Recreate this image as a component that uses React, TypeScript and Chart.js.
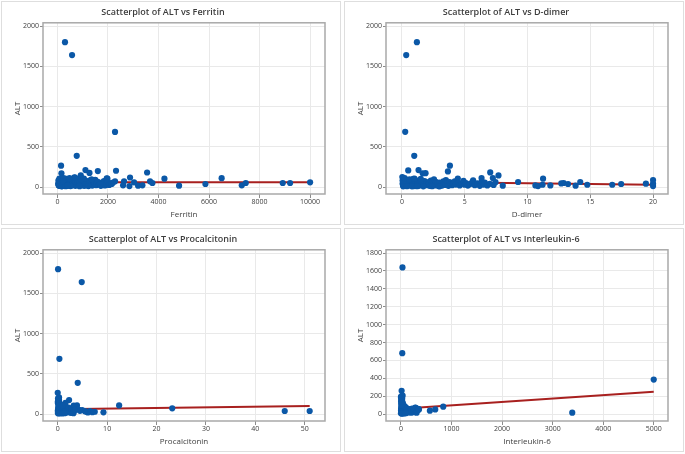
import React, { useEffect, useRef } from 'react';
import { Chart, registerables } from 'chart.js';

Chart.register(...registerables);

// ---------- data: [x, ALT] pairs ----------
const ferritinPoints: [number, number][] = [
  [300, 1800], [580, 1640], [2280, 685], [765, 388], [145, 265], [160, 170], [1110, 210], [1270, 175],
  [1600, 198], [925, 145], [2320, 202], [3550, 180], [4235, 103], [6500, 110], [2875, 118], [1953, 107],
  [2638, 70], [3034, 58], [2282, 70], [3667, 70], [3760, 50], [2599, 21], [2850, 12], [3193, 16],
  [3364, 21], [4815, 16], [5858, 37], [7296, 21], [7454, 50], [8918, 50], [9208, 50], [10000, 58],
  [673, 119], [1979, 103],
  [30, 40], [45, 25], [60, 55], [75, 15], [90, 70], [100, 35], [110, 50], [120, 20], [130, 85], [140, 30],
  [150, 60], [165, 45], [180, 12], [190, 75], [200, 38], [210, 95], [220, 28], [235, 52], [250, 18], [260, 65],
  [275, 42], [290, 30], [300, 80], [315, 22], [330, 55], [345, 35], [360, 100], [375, 48], [390, 15], [400, 68],
  [415, 30], [430, 58], [445, 24], [460, 85], [475, 40], [490, 18], [500, 62], [520, 33], [540, 75], [555, 50],
  [570, 20], [590, 90], [610, 38], [630, 55], [650, 26], [670, 72], [690, 45], [710, 15], [730, 60], [750, 35],
  [770, 95], [790, 28], [810, 52], [830, 70], [850, 20], [870, 42], [890, 65], [910, 30], [930, 85], [950, 48],
  [975, 22], [1000, 58], [1020, 38], [1040, 75], [1060, 15], [1080, 50], [1100, 30], [1125, 68], [1150, 42], [1175, 20],
  [1200, 55], [1230, 35], [1260, 80], [1290, 25], [1320, 60], [1350, 40], [1380, 18], [1410, 70], [1440, 32], [1470, 50],
  [1500, 90], [1530, 22], [1560, 45], [1600, 65], [1640, 28], [1680, 40], [1720, 15], [1760, 55], [1800, 35], [1840, 72],
  [1880, 20], [1920, 48], [1960, 30], [2000, 62], [2050, 25], [2100, 45], [2150, 38], [2200, 55], [80, 105], [250, 110],
  [480, 112], [700, 118], [950, 100], [1350, 95], [1050, 105], [60, 18], [170, 8], [330, 10], [520, 12], [880, 10],
  [1230, 12], [1700, 35], [40, 80], [120, 60], [220, 70], [400, 20],
];

const ddimerPoints: [number, number][] = [
  [1.19, 1800], [0.34, 1640], [0.26, 686], [0.98, 388], [3.82, 265], [0.5, 206], [1.32, 210], [3.66, 194],
  [1.65, 170], [1.88, 172], [0.03, 124], [7.03, 181], [7.69, 144], [5.67, 82], [6.34, 111], [7.24, 111],
  [8.03, 16], [9.25, 62], [10.63, 20], [10.84, 12], [11.2, 28], [11.24, 103], [11.82, 20], [12.69, 45],
  [12.88, 50], [13.23, 37], [13.83, 16], [14.2, 62], [14.76, 28], [16.75, 28], [17.46, 37], [19.43, 41],
  [20, 87], [20, 41], [20, 12],
  [0.05, 40], [0.1, 20], [0.15, 65], [0.2, 35], [0.25, 90], [0.3, 15], [0.35, 50], [0.4, 28], [0.45, 75], [0.5, 45],
  [0.55, 18], [0.6, 60], [0.65, 32], [0.7, 85], [0.75, 22], [0.8, 55], [0.85, 40], [0.9, 100], [0.95, 12], [1.0, 68],
  [1.05, 30], [1.1, 48], [1.15, 20], [1.2, 78], [1.25, 38], [1.3, 58], [1.35, 15], [1.4, 42], [1.45, 88], [1.5, 25],
  [1.55, 62], [1.6, 35], [1.7, 50], [1.75, 18], [1.8, 72], [1.9, 30], [1.95, 45], [2.0, 22], [2.1, 60], [2.15, 38],
  [2.2, 15], [2.3, 80], [2.35, 28], [2.4, 52], [2.5, 35], [2.55, 95], [2.6, 20], [2.7, 65], [2.8, 42], [2.9, 12],
  [3.0, 55], [3.1, 30], [3.2, 18], [3.3, 70], [3.35, 40], [3.45, 25], [3.5, 85], [3.6, 50], [3.7, 15], [3.8, 62],
  [3.9, 35], [4.0, 22], [4.1, 45], [4.2, 70], [4.3, 30], [4.45, 105], [4.5, 55], [4.6, 20], [4.75, 40], [4.9, 75],
  [5.0, 28], [5.1, 50], [5.25, 18], [5.4, 35], [5.6, 60], [5.8, 22], [6.0, 45], [6.2, 15], [6.35, 70], [6.5, 30],
  [6.6, 55], [6.8, 20], [7.0, 40], [7.3, 25], [7.45, 60], [0.05, 80], [0.12, 55], [0.22, 110], [0.6, 95], [1.0, 105],
  [1.5, 100], [0.1, 8], [0.4, 10], [0.8, 8], [1.2, 10], [1.7, 8], [2.4, 10], [3.0, 8],
];

const procalcitoninPoints: [number, number][] = [
  [0.07, 1800], [4.86, 1640], [0.34, 686], [4.05, 388], [0, 264], [0.27, 206], [0.27, 173], [0.06, 194],
  [2.3, 173], [1.56, 140], [3.24, 103], [3.9, 107], [12.43, 107], [23.18, 70], [45.95, 37], [51.0, 37],
  [9.26, 21], [4.93, 50], [5.8, 28], [6.5, 37], [7.5, 28], [7.0, 22], [6.1, 20], [5.5, 35],
  [0.02, 40], [0.05, 20], [0.08, 65], [0.1, 30], [0.12, 90], [0.15, 50], [0.18, 15], [0.2, 75], [0.22, 35], [0.25, 55],
  [0.28, 25], [0.3, 110], [0.32, 45], [0.35, 18], [0.38, 70], [0.4, 38], [0.45, 60], [0.5, 22], [0.55, 85], [0.6, 42],
  [0.65, 12], [0.7, 55], [0.75, 30], [0.8, 95], [0.85, 48], [0.9, 20], [0.95, 65], [1.0, 35], [1.05, 78], [1.1, 25],
  [1.2, 52], [1.25, 15], [1.3, 70], [1.4, 40], [1.5, 120], [1.55, 28], [1.6, 58], [1.7, 38], [1.8, 18], [1.9, 65],
  [2.0, 45], [2.1, 25], [2.2, 80], [2.3, 35], [2.4, 55], [2.5, 20], [2.6, 42], [2.7, 15], [2.8, 60], [2.9, 30],
  [3.0, 48], [3.1, 22], [3.2, 10], [3.3, 38], [3.5, 95], [3.6, 55], [0.02, 140], [0.05, 160], [0.1, 125], [0.15, 180],
  [0.2, 150], [0.05, 8], [0.3, 8], [0.6, 10], [1.0, 8], [1.4, 10], [0.4, 130], [0.7, 115], [1.0, 105], [4.2, 55],
  [4.5, 40],
];

const interleukinPoints: [number, number][] = [
  [30, 1640], [26, 681], [5000, 385], [3388, 15], [13, 260], [0, 193], [33, 205], [14, 200],
  [572, 37], [678, 52], [836, 82], [283, 71], [349, 52], [290, 70],
  [2, 40], [4, 20], [5, 65], [6, 120], [8, 30], [9, 90], [10, 50], [12, 15], [13, 150], [15, 75],
  [16, 35], [18, 105], [20, 55], [22, 25], [24, 170], [25, 45], [27, 85], [28, 12], [30, 60], [32, 130],
  [33, 38], [35, 95], [37, 22], [38, 70], [40, 48], [42, 110], [44, 18], [45, 58], [48, 32], [50, 80],
  [52, 42], [55, 28], [58, 65], [60, 15], [62, 50], [65, 35], [68, 90], [70, 25], [72, 55], [75, 40],
  [78, 20], [80, 62], [85, 30], [88, 45], [92, 18], [95, 75], [98, 38], [100, 55], [105, 25], [110, 42],
  [115, 15], [120, 60], [130, 30], [140, 48], [150, 20], [160, 38], [170, 55], [180, 25], [190, 45], [200, 15],
  [210, 35], [220, 60], [230, 28], [250, 45], [260, 20], [270, 50], [300, 30], [310, 15], [320, 40], [340, 58],
  [355, 51], [1, 180], [3, 140], [7, 160], [11, 100], [19, 135], [0, 8], [15, 5], [35, 8], [60, 6], [95, 10],
];

// regression (fitted) line end points
const ferritinFitX = [30, 10000];
const ferritinFitY = [60, 58];
const ddimerFitX = [0.03, 20];
const ddimerFitY = [65, 28];
const procalcitoninFitX = [0, 51];
const procalcitoninFitY = [60, 98];
const interleukinFitX = [0, 5000];
const interleukinFitY = [58, 249];

// tick labels
const altTicksA = [0, 500, 1000, 1500, 2000];
const altTicksB = [0, 200, 400, 600, 800, 1000, 1200, 1400, 1600, 1800];
const ferritinTicks = [0, 2000, 4000, 6000, 8000, 10000];
const ddimerTicks = [0, 5, 10, 15, 20];
const procalcitoninTicks = [0, 10, 20, 30, 40, 50];
const interleukinTicks = [0, 1000, 2000, 3000, 4000, 5000];

// axis ranges
const altRangeA = [-87, 2041];
const altRangeB = [-78, 1837];
const ferritinRange = [-570, 10590];
const ddimerRange = [-1.27, 21.19];
const procalcitoninRange = [-2.98, 54.1];
const interleukinRange = [-296, 5282];

const FONT = "'Open Sans', 'Noto Sans', sans-serif";
const TEXT = '#3d3d3d';

const framePlugin = {
  id: 'frame',
  beforeDatasetsDraw(chart: any) {
    const { ctx, chartArea: a } = chart;
    ctx.save();
    ctx.strokeStyle = '#a9a9a9';
    ctx.lineWidth = 1.5;
    ctx.strokeRect(a.left, a.top, a.right - a.left, a.bottom - a.top);
    ctx.restore();
  },
};

type PanelProps = {
  left: number;
  top: number;
  title: string;
  xLabel: string;
  points: [number, number][];
  fitX: number[];
  fitY: number[];
  xRange: number[];
  yRange: number[];
  xTicks: number[];
  yTicks: number[];
};

function Panel(p: PanelProps) {
  const ref = useRef<HTMLCanvasElement>(null);
  useEffect(() => {
    const chart = new Chart(ref.current as HTMLCanvasElement, {
      type: 'scatter',
      data: {
        datasets: [
          {
            type: 'scatter',
            data: p.points.map(([x, y]) => ({ x, y })),
            backgroundColor: '#0b58a7',
            borderColor: '#0b58a7',
            borderWidth: 0,
            pointRadius: 3.1,
            order: 0,
          } as any,
          {
            type: 'line',
            data: p.fitX.map((x, i) => ({ x, y: p.fitY[i] })),
            borderColor: '#a8201f',
            borderWidth: 2,
            pointRadius: 0,
            fill: false,
            order: 1,
          } as any,
        ],
      },
      options: {
        animation: false,
        responsive: false,
        maintainAspectRatio: false,
        layout: { padding: { left: 0, right: 16, top: 0, bottom: 0 } },
        plugins: {
          legend: { display: false },
          tooltip: { enabled: false },
          title: {
            display: true,
            text: p.title,
            color: TEXT,
            font: { family: FONT, size: 9, weight: '600' as any },
            padding: { top: 6, bottom: 5 },
          },
        },
        scales: {
          x: {
            type: 'linear',
            position: 'bottom',
            min: p.xRange[0],
            max: p.xRange[1],
            afterBuildTicks: (s: any) => {
              s.ticks = p.xTicks.map((v) => ({ value: v }));
            },
            afterFit: (s: any) => {
              s.height = 31;
            },
            ticks: {
              callback: (v: any) => String(v),
              color: TEXT,
              font: { family: FONT, size: 7 },
              padding: 0,
              maxRotation: 0,
              autoSkip: false,
            },
            grid: { color: '#e9e9e9', tickColor: '#8c8c8c', tickLength: 4, lineWidth: 1 },
            border: { display: false },
            title: {
              display: true,
              text: p.xLabel,
              color: TEXT,
              font: { family: FONT, size: 8 },
              padding: { top: 0, bottom: 5 },
            },
          },
          y: {
            type: 'linear',
            position: 'left',
            min: p.yRange[0],
            max: p.yRange[1],
            afterBuildTicks: (s: any) => {
              s.ticks = p.yTicks.map((v) => ({ value: v }));
            },
            afterFit: (s: any) => {
              s.width = 42;
            },
            ticks: {
              callback: (v: any) => String(v),
              color: TEXT,
              font: { family: FONT, size: 7 },
              padding: 1,
              autoSkip: false,
            },
            grid: { color: '#e9e9e9', tickColor: '#8c8c8c', tickLength: 3, lineWidth: 1 },
            border: { display: false },
            title: {
              display: true,
              text: 'ALT',
              color: TEXT,
              font: { family: FONT, size: 8 },
              padding: { top: 12, bottom: 0 },
            },
          },
        },
      } as any,
      plugins: [framePlugin],
    });
    return () => chart.destroy();
  }, []);
  return (
    <>
      <div
        style={{
          position: 'absolute',
          left: p.left,
          top: p.top,
          width: 340,
          height: 224,
          border: '1px solid #dedede',
          boxSizing: 'border-box',
        }}
      />
      <canvas
        ref={ref}
        width={340}
        height={224}
        style={{ position: 'absolute', left: p.left, top: p.top, width: 340, height: 224 }}
      />
    </>
  );
}

export default function App() {
  return (
    <div style={{ position: 'relative', width: 685, height: 454, background: '#ffffff', overflow: 'hidden' }}>
      <style>{'body{margin:0;background:#fff}'}</style>
      <Panel
        left={1}
        top={1}
        title="Scatterplot of ALT vs Ferritin"
        xLabel="Ferritin"
        points={ferritinPoints}
        fitX={ferritinFitX}
        fitY={ferritinFitY}
        xRange={ferritinRange}
        yRange={altRangeA}
        xTicks={ferritinTicks}
        yTicks={altTicksA}
      />
      <Panel
        left={344}
        top={1}
        title="Scatterplot of ALT vs D-dimer"
        xLabel="D-dimer"
        points={ddimerPoints}
        fitX={ddimerFitX}
        fitY={ddimerFitY}
        xRange={ddimerRange}
        yRange={altRangeA}
        xTicks={ddimerTicks}
        yTicks={altTicksA}
      />
      <Panel
        left={1}
        top={228}
        title="Scatterplot of ALT vs Procalcitonin"
        xLabel="Procalcitonin"
        points={procalcitoninPoints}
        fitX={procalcitoninFitX}
        fitY={procalcitoninFitY}
        xRange={procalcitoninRange}
        yRange={altRangeA}
        xTicks={procalcitoninTicks}
        yTicks={altTicksA}
      />
      <Panel
        left={344}
        top={228}
        title="Scatterplot of ALT vs Interleukin-6"
        xLabel="Interleukin-6"
        points={interleukinPoints}
        fitX={interleukinFitX}
        fitY={interleukinFitY}
        xRange={interleukinRange}
        yRange={altRangeB}
        xTicks={interleukinTicks}
        yTicks={altTicksB}
      />
    </div>
  );
}
